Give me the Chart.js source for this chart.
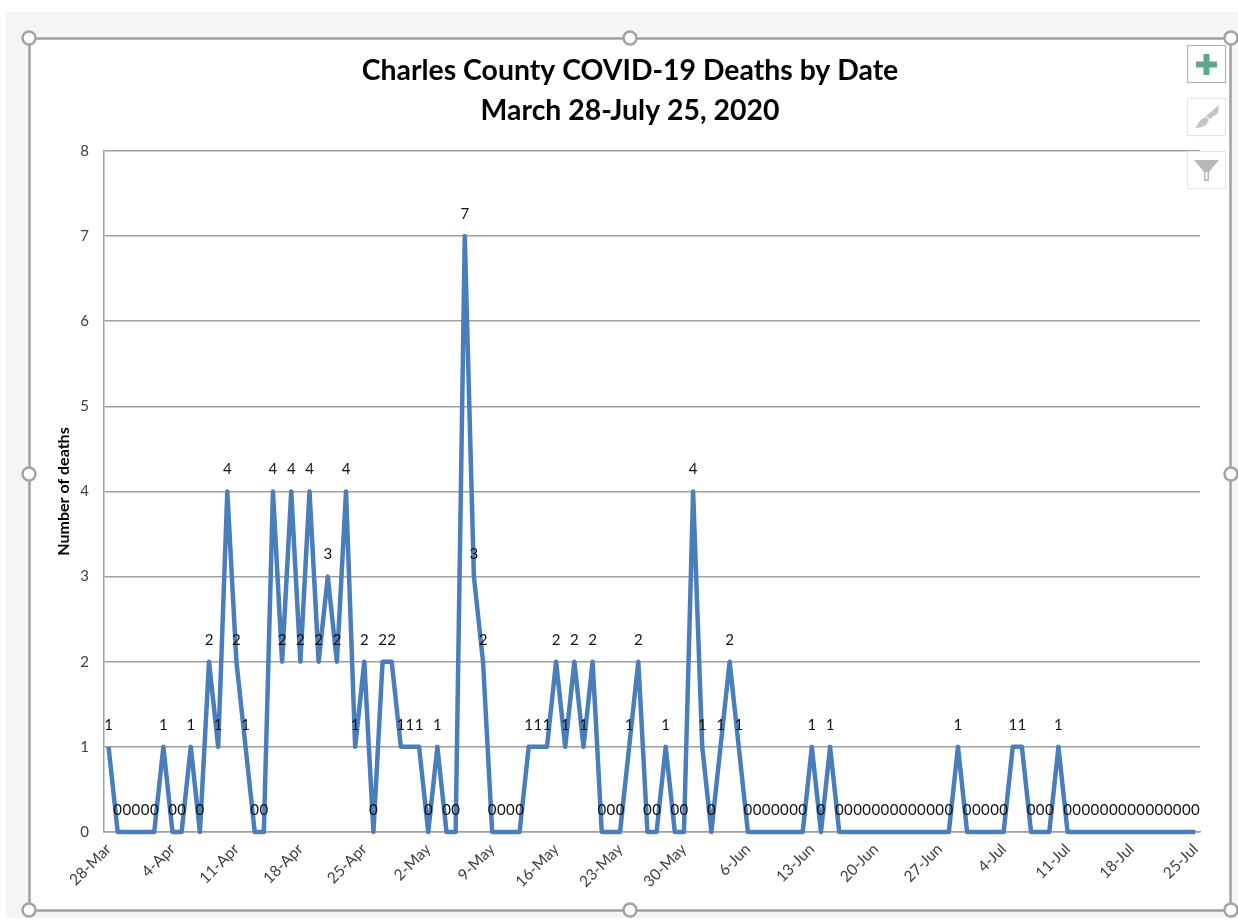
<!DOCTYPE html>
<html>
<head>
<meta charset="utf-8">
<title>Charles County COVID-19 Deaths by Date</title>
<script src="https://cdn.jsdelivr.net/npm/chart.js@4/dist/chart.umd.min.js"></script>
<style>
	html, body { margin: 0; padding: 0; background: #fff; overflow: hidden; }
	#back { position: absolute; left: 6px; top: 12px; width: 1232px; height: 906px; background: #f5f5f5; }
	#sheet { position: absolute; left: 29px; top: 38px; width: 1201px; height: 872px; background: #fff; }
	#chart_canvas { position: absolute; left: 0; top: 0; }
	#overlay { position: absolute; left: 0; top: 0; pointer-events: none; }
</style>
</head>
<body>
<div id="back"></div>
<div id="sheet"></div>
<canvas id="chart_canvas" width="1238" height="924" style="width:1238px;height:924px"></canvas>
<svg id="overlay" width="1238" height="924" viewBox="0 0 1238 924">
	<rect x="29.5" y="38.5" width="1201" height="872" fill="none" stroke="#a0a0a0" stroke-width="2.5"/>
	<g fill="#fff" stroke="#a3a3a3" stroke-width="2.5">
		<circle cx="29" cy="38" r="6.5"/><circle cx="630" cy="38" r="6.5"/><circle cx="1231" cy="38" r="6.5"/>
		<circle cx="29" cy="474" r="6.5"/><circle cx="1231" cy="474" r="6.5"/>
		<circle cx="29" cy="910" r="6.5"/><circle cx="630" cy="910" r="6.5"/><circle cx="1231" cy="910" r="6.5"/>
	</g>
	<rect x="1187.5" y="45.5" width="38" height="37" fill="#fff" stroke="#b4b4b4" stroke-width="1.2"/>
	<path d="M1203.5 54h6v7.5h7.5v6h-7.500v7.500h-6v-7.500h-7.500v-6h7.500z" fill="#5fa68c"/>
	<rect x="1187.500" y="98.500" width="38" height="37" fill="#fff" stroke="#e4e4e4" stroke-width="1.200"/>
	<path d="M1219 105l-1 8-8 6-4-3z M1206 117l3 3-3 5c-3 2-7 3-11 3 3-3 4-9 11-11z" fill="#c4c4c4"/>
	<rect x="1187.500" y="151.500" width="38" height="37" fill="#fff" stroke="#e4e4e4" stroke-width="1.200"/>
	<path d="M1194 160h25l-10 12v9h-5v-9z" fill="#b8b8b8"/>
	<path d="M1205.500 172h2v7h-2z" fill="#fff"/>
</svg>
<script>
const dates = [
	'28-Mar','29-Mar','30-Mar','31-Mar','1-Apr','2-Apr','3-Apr',
	'4-Apr','5-Apr','6-Apr','7-Apr','8-Apr','9-Apr','10-Apr',
	'11-Apr','12-Apr','13-Apr','14-Apr','15-Apr','16-Apr','17-Apr',
	'18-Apr','19-Apr','20-Apr','21-Apr','22-Apr','23-Apr','24-Apr',
	'25-Apr','26-Apr','27-Apr','28-Apr','29-Apr','30-Apr','1-May',
	'2-May','3-May','4-May','5-May','6-May','7-May','8-May',
	'9-May','10-May','11-May','12-May','13-May','14-May','15-May',
	'16-May','17-May','18-May','19-May','20-May','21-May','22-May',
	'23-May','24-May','25-May','26-May','27-May','28-May','29-May',
	'30-May','31-May','1-Jun','2-Jun','3-Jun','4-Jun','5-Jun',
	'6-Jun','7-Jun','8-Jun','9-Jun','10-Jun','11-Jun','12-Jun',
	'13-Jun','14-Jun','15-Jun','16-Jun','17-Jun','18-Jun','19-Jun',
	'20-Jun','21-Jun','22-Jun','23-Jun','24-Jun','25-Jun','26-Jun',
	'27-Jun','28-Jun','29-Jun','30-Jun','1-Jul','2-Jul','3-Jul',
	'4-Jul','5-Jul','6-Jul','7-Jul','8-Jul','9-Jul','10-Jul',
	'11-Jul','12-Jul','13-Jul','14-Jul','15-Jul','16-Jul','17-Jul',
	'18-Jul','19-Jul','20-Jul','21-Jul','22-Jul','23-Jul','24-Jul',
	'25-Jul'
];

const deaths = [
	1,0,0,0,0,0,1,
	0,0,1,0,2,1,4,
	2,1,0,0,4,2,4,
	2,4,2,3,2,4,1,
	2,0,2,2,1,1,1,
	0,1,0,0,7,3,2,
	0,0,0,0,1,1,1,
	2,1,2,1,2,0,0,
	0,1,2,0,0,1,0,
	0,4,1,0,1,2,1,
	0,0,0,0,0,0,0,
	1,0,1,0,0,0,0,
	0,0,0,0,0,0,0,
	0,0,1,0,0,0,0,
	0,1,1,0,0,0,1,
	0,0,0,0,0,0,0,
	0,0,0,0,0,0,0,
	0
];

const titleLines = ['Charles County COVID-19 Deaths by Date', 'March 28-July 25, 2020'];
const yTitle = 'Number of deaths';

// value above every point, the way excel puts data labels
const pointValues = {
	id: 'pointValues',
	afterDatasetsDraw(chart) {
		const { ctx } = chart;
		const points = chart.getDatasetMeta(0).data;
		ctx.save();
		ctx.font = '15px Lato';
		ctx.fillStyle = '#111';
		ctx.textAlign = 'center';
		ctx.textBaseline = 'middle';
		points.forEach((pt, i) => {
			ctx.fillText(deaths[i], pt.x, pt.y - 22);
		});
		ctx.restore();
	}
};

const chart = new Chart(document.getElementById('chart_canvas'), {
	type: 'line',
	data: {
		labels: dates,
		datasets: [{
			data: deaths,
			borderColor: '#4a7ebb',
			borderWidth: 4.5,
			borderJoinStyle: 'round',
			pointRadius: 0,
			tension: 0,
			clip: false
		}]
	},
	options: {
		responsive: false,
		animation: false,
		devicePixelRatio: 1,
		// left padding also pulls the title over to the middle of the frame
		layout: { padding: { left: 60, right: 38, top: 0, bottom: 0 } },
		plugins: {
			legend: { display: false },
			tooltip: { enabled: false },
			title: {
				display: true,
				text: titleLines,
				color: '#000',
				font: { family: 'Lato', size: 28.4, weight: 'bold', lineHeight: 1.408 },
				padding: { top: 51, bottom: 20 }
			}
		},
		scales: {
			x: {
				offset: true,
				grid: { display: false, drawTicks: false },
				border: { color: '#a0a0a0', width: 1.5 },
				afterFit: (scale) => { scale.height = 92; },
				ticks: {
					autoSkip: false,
					maxRotation: 45,
					minRotation: 45,
					padding: 8,
					color: '#404040',
					font: { family: 'Lato', size: 15.5 },
					callback: (v, i) => (i % 7 === 0 ? dates[i] : '')
				}
			},
			y: {
				min: 0,
				max: 8,
				afterFit: (scale) => { scale.width = 44; },
				grid: { color: '#a0a0a0', lineWidth: 1.5, drawTicks: false },
				border: { color: '#a0a0a0', width: 1.5 },
				title: {
					display: true,
					text: yTitle,
					color: '#000',
					font: { family: 'Lato', size: 16, weight: 'bold' },
					padding: { top: -6, bottom: 0 }
				},
				ticks: {
					stepSize: 1,
					padding: 15,
					color: '#404040',
					font: { family: 'Lato', size: 15 }
				}
			}
		}
	},
	plugins: [pointValues]
});
</script>
</body>
</html>
